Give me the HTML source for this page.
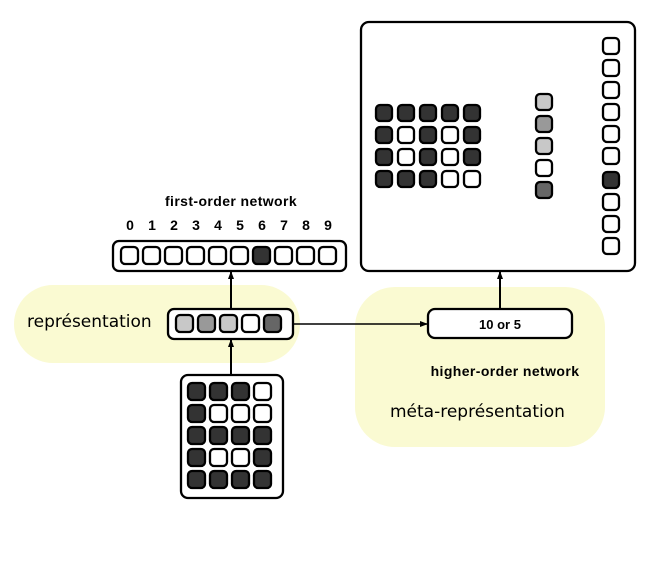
<!DOCTYPE html>
<html><head><meta charset="utf-8"><style>
html,body{margin:0;padding:0;background:#fff;width:670px;height:579px;overflow:hidden}
svg{display:block}
</style></head><body>
<svg width="670" height="579" viewBox="0 0 670 579" xmlns="http://www.w3.org/2000/svg" style="font-family:'Liberation Sans',sans-serif">
<defs>
<marker id="ah" markerWidth="8" markerHeight="8" refX="7" refY="4" orient="auto" markerUnits="userSpaceOnUse">
<path d="M0,1 L8,4 L0,7 Z" fill="#000"/></marker>
</defs>
<rect x="14" y="285" width="286" height="78" rx="39" fill="#fafad2"/>
<rect x="355" y="287" width="250" height="160" rx="40" fill="#fafad2"/>

<text x="231" y="206" style="font-family:'Liberation Sans',sans-serif;font-size:14px;font-weight:bold;letter-spacing:0.4px" text-anchor="middle">first-order network</text>
<g style="font-family:'Liberation Sans',sans-serif;font-size:14px;font-weight:bold" text-anchor="middle">
<text x="130" y="230">0</text><text x="152" y="230">1</text><text x="174" y="230">2</text><text x="196" y="230">3</text><text x="218" y="230">4</text><text x="240" y="230">5</text><text x="262" y="230">6</text><text x="284" y="230">7</text><text x="306" y="230">8</text><text x="328" y="230">9</text>
</g>
<text x="27" y="327" style="font-family:'DejaVu Sans',sans-serif;font-size:17px">représentation</text>
<text x="505" y="376" style="font-family:'Liberation Sans',sans-serif;font-size:14px;font-weight:bold;letter-spacing:0.4px" text-anchor="middle">higher-order network</text>
<text x="390" y="417" style="font-family:'DejaVu Sans',sans-serif;font-size:17px">méta-représentation</text>

<line x1="231" y1="375" x2="231" y2="340" stroke="#000" stroke-width="2" marker-end="url(#ah)"/>
<line x1="231" y1="309" x2="231" y2="272" stroke="#000" stroke-width="2" marker-end="url(#ah)"/>
<line x1="293" y1="324" x2="427" y2="324" stroke="#000" stroke-width="1.5" marker-end="url(#ah)"/>
<line x1="500" y1="309" x2="500" y2="272" stroke="#000" stroke-width="2" marker-end="url(#ah)"/>

<g stroke="#000" stroke-width="2.3">
<rect x="113" y="241" width="233" height="30" rx="6" fill="#fff"/>
<rect x="121" y="247" width="17" height="17" rx="4" fill="#fff"/>
<rect x="143" y="247" width="17" height="17" rx="4" fill="#fff"/>
<rect x="165" y="247" width="17" height="17" rx="4" fill="#fff"/>
<rect x="187" y="247" width="17" height="17" rx="4" fill="#fff"/>
<rect x="209" y="247" width="17" height="17" rx="4" fill="#fff"/>
<rect x="231" y="247" width="17" height="17" rx="4" fill="#fff"/>
<rect x="253" y="247" width="17" height="17" rx="4" fill="#333"/>
<rect x="275" y="247" width="17" height="17" rx="4" fill="#fff"/>
<rect x="297" y="247" width="17" height="17" rx="4" fill="#fff"/>
<rect x="319" y="247" width="17" height="17" rx="4" fill="#fff"/>

<rect x="168" y="309" width="125" height="30" rx="6" fill="#fff"/>
<rect x="176" y="315" width="17" height="17" rx="4" fill="#c8c8c8"/>
<rect x="198" y="315" width="17" height="17" rx="4" fill="#999"/>
<rect x="220" y="315" width="17" height="17" rx="4" fill="#c8c8c8"/>
<rect x="242" y="315" width="17" height="17" rx="4" fill="#fff"/>
<rect x="264" y="315" width="17" height="17" rx="4" fill="#666"/>

<rect x="181" y="375" width="102" height="123" rx="7" fill="#fff"/>
<rect x="188" y="383" width="17" height="17" rx="4" fill="#333"/>
<rect x="210" y="383" width="17" height="17" rx="4" fill="#333"/>
<rect x="232" y="383" width="17" height="17" rx="4" fill="#333"/>
<rect x="254" y="383" width="17" height="17" rx="4" fill="#fff"/>
<rect x="188" y="405" width="17" height="17" rx="4" fill="#333"/>
<rect x="210" y="405" width="17" height="17" rx="4" fill="#fff"/>
<rect x="232" y="405" width="17" height="17" rx="4" fill="#fff"/>
<rect x="254" y="405" width="17" height="17" rx="4" fill="#fff"/>
<rect x="188" y="427" width="17" height="17" rx="4" fill="#333"/>
<rect x="210" y="427" width="17" height="17" rx="4" fill="#333"/>
<rect x="232" y="427" width="17" height="17" rx="4" fill="#333"/>
<rect x="254" y="427" width="17" height="17" rx="4" fill="#333"/>
<rect x="188" y="449" width="17" height="17" rx="4" fill="#333"/>
<rect x="210" y="449" width="17" height="17" rx="4" fill="#fff"/>
<rect x="232" y="449" width="17" height="17" rx="4" fill="#fff"/>
<rect x="254" y="449" width="17" height="17" rx="4" fill="#333"/>
<rect x="188" y="471" width="17" height="17" rx="4" fill="#333"/>
<rect x="210" y="471" width="17" height="17" rx="4" fill="#333"/>
<rect x="232" y="471" width="17" height="17" rx="4" fill="#333"/>
<rect x="254" y="471" width="17" height="17" rx="4" fill="#333"/>

<rect x="428" y="309" width="144" height="29" rx="7" fill="#fff"/>

<rect x="361" y="22" width="274" height="249" rx="8" fill="#fff"/>
<rect x="376" y="105" width="16" height="16" rx="4" fill="#333"/>
<rect x="398" y="105" width="16" height="16" rx="4" fill="#333"/>
<rect x="420" y="105" width="16" height="16" rx="4" fill="#333"/>
<rect x="442" y="105" width="16" height="16" rx="4" fill="#333"/>
<rect x="464" y="105" width="16" height="16" rx="4" fill="#333"/>
<rect x="376" y="127" width="16" height="16" rx="4" fill="#333"/>
<rect x="398" y="127" width="16" height="16" rx="4" fill="#fff"/>
<rect x="420" y="127" width="16" height="16" rx="4" fill="#333"/>
<rect x="442" y="127" width="16" height="16" rx="4" fill="#fff"/>
<rect x="464" y="127" width="16" height="16" rx="4" fill="#333"/>
<rect x="376" y="149" width="16" height="16" rx="4" fill="#333"/>
<rect x="398" y="149" width="16" height="16" rx="4" fill="#fff"/>
<rect x="420" y="149" width="16" height="16" rx="4" fill="#333"/>
<rect x="442" y="149" width="16" height="16" rx="4" fill="#fff"/>
<rect x="464" y="149" width="16" height="16" rx="4" fill="#333"/>
<rect x="376" y="171" width="16" height="16" rx="4" fill="#333"/>
<rect x="398" y="171" width="16" height="16" rx="4" fill="#333"/>
<rect x="420" y="171" width="16" height="16" rx="4" fill="#333"/>
<rect x="442" y="171" width="16" height="16" rx="4" fill="#fff"/>
<rect x="464" y="171" width="16" height="16" rx="4" fill="#fff"/>
<rect x="536" y="94" width="16" height="16" rx="4" fill="#c8c8c8"/>
<rect x="536" y="116" width="16" height="16" rx="4" fill="#999"/>
<rect x="536" y="138" width="16" height="16" rx="4" fill="#c8c8c8"/>
<rect x="536" y="160" width="16" height="16" rx="4" fill="#fff"/>
<rect x="536" y="182" width="16" height="16" rx="4" fill="#666"/>
<rect x="603" y="38" width="16" height="16" rx="4" fill="#fff"/>
<rect x="603" y="60" width="16" height="16" rx="4" fill="#fff"/>
<rect x="603" y="82" width="16" height="16" rx="4" fill="#fff"/>
<rect x="603" y="104" width="16" height="16" rx="4" fill="#fff"/>
<rect x="603" y="126" width="16" height="16" rx="4" fill="#fff"/>
<rect x="603" y="148" width="16" height="16" rx="4" fill="#fff"/>
<rect x="603" y="172" width="16" height="16" rx="4" fill="#333"/>
<rect x="603" y="194" width="16" height="16" rx="4" fill="#fff"/>
<rect x="603" y="216" width="16" height="16" rx="4" fill="#fff"/>
<rect x="603" y="238" width="16" height="16" rx="4" fill="#fff"/>
</g>
<text x="500" y="329" style="font-family:'Liberation Sans',sans-serif;font-size:13px;font-weight:bold" text-anchor="middle">10 or 5</text>
</svg>
</body></html>
